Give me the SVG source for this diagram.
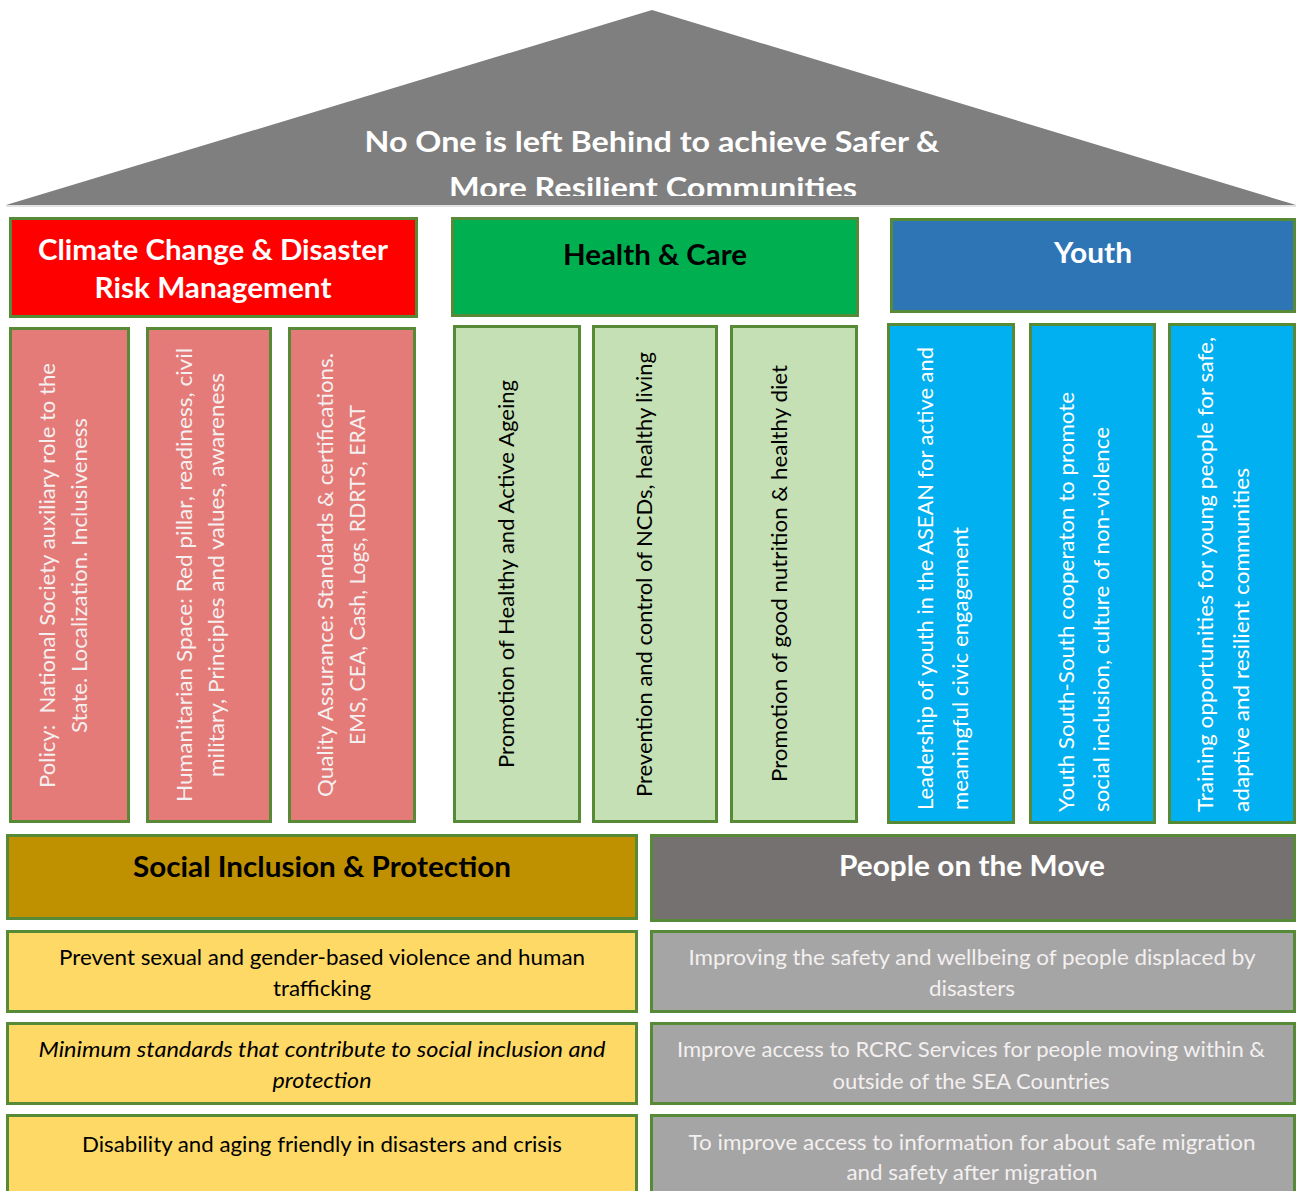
<svg xmlns="http://www.w3.org/2000/svg" width="1296" height="1191" viewBox="0 0 1296 1191">
<defs>
<style>
.box{stroke:#578A36;stroke-width:3}
.t{font-family:Lato,"Open Sans","Liberation Sans",sans-serif;font-size:22px}
.h{font-family:Lato,"Open Sans","Liberation Sans",sans-serif;font-weight:bold;font-size:29px;text-anchor:middle}
.c{text-anchor:middle}
.w{fill:#FFFFFF}
.lw{fill:#F4F0F0}
.k{fill:#000000}
</style>
<clipPath id="roofclip"><rect x="0" y="0" width="1296" height="196"/></clipPath>
</defs>
<rect width="1296" height="1191" fill="#FFFFFF"/>

<g id="roof">
<polygon points="652,10 6,205 1296,205" fill="#7F7F7F"/>
<line x1="6" y1="206" x2="1296" y2="206" stroke="#C8C8C8" stroke-width="1"/>
<g clip-path="url(#roofclip)">
<text class="h w" x="652" y="152" font-size="30" textLength="575" lengthAdjust="spacingAndGlyphs">No One is left Behind to achieve Safer &amp;</text>
<text class="h w" x="653" y="198" font-size="30" textLength="408" lengthAdjust="spacingAndGlyphs">More Resilient Communities</text>
</g>
</g>

<g id="climate-header">
<rect class="box" x="10.5" y="218.5" width="406" height="98" fill="#FF0000"/>
<text class="h w" x="213" y="260" font-size="30" textLength="350" lengthAdjust="spacingAndGlyphs">Climate Change &amp; Disaster</text>
<text class="h w" x="213" y="298" font-size="30" textLength="237" lengthAdjust="spacingAndGlyphs">Risk Management</text>
</g>
<g id="health-header">
<rect class="box" x="452.5" y="218.5" width="405" height="97" fill="#00B050"/>
<text class="h k" x="655" y="265" font-size="28" textLength="184" lengthAdjust="spacingAndGlyphs">Health &amp; Care</text>
</g>
<g id="youth-header">
<rect class="box" x="891.5" y="219.5" width="403" height="92" fill="#2E75B6"/>
<text class="h w" x="1093" y="263" font-size="28" textLength="78" lengthAdjust="spacingAndGlyphs">Youth</text>
</g>

<g id="climate-col1">
<rect class="box" x="10.5" y="328.5" width="118" height="493" fill="#E47B78"/>
<text class="t lw c" xml:space="preserve" transform="translate(55,575.5) rotate(-90)" textLength="425" lengthAdjust="spacingAndGlyphs">Policy:  National Society auxiliary role to the</text>
<text class="t lw c" transform="translate(87,575.5) rotate(-90)" textLength="315" lengthAdjust="spacingAndGlyphs">State. Localization. Inclusiveness</text>
</g>
<g id="climate-col2">
<rect class="box" x="147.5" y="328.5" width="123" height="493" fill="#E47B78"/>
<text class="t lw c" transform="translate(192,575) rotate(-90)" textLength="454" lengthAdjust="spacingAndGlyphs">Humanitarian Space: Red pillar, readiness, civil</text>
<text class="t lw c" transform="translate(224,575) rotate(-90)" textLength="404" lengthAdjust="spacingAndGlyphs">military, Principles and values, awareness</text>
</g>
<g id="climate-col3">
<rect class="box" x="289.5" y="328.5" width="125" height="493" fill="#E47B78"/>
<text class="t lw c" transform="translate(333,575) rotate(-90)" textLength="444" lengthAdjust="spacingAndGlyphs">Quality Assurance: Standards &amp; certifications.</text>
<text class="t lw c" transform="translate(365,575) rotate(-90)" textLength="340" lengthAdjust="spacingAndGlyphs">EMS, CEA, Cash, Logs, RDRTS, ERAT</text>
</g>

<g id="health-col1">
<rect class="box" x="454.5" y="326.5" width="125" height="495" fill="#C5E0B4"/>
<text class="t k c" transform="translate(514,574) rotate(-90)" textLength="388" lengthAdjust="spacingAndGlyphs">Promotion of Healthy and Active Ageing</text>
</g>
<g id="health-col2">
<rect class="box" x="593.5" y="326.5" width="123" height="495" fill="#C5E0B4"/>
<text class="t k c" transform="translate(652,574.5) rotate(-90)" textLength="445" lengthAdjust="spacingAndGlyphs">Prevention and control of NCDs, healthy living</text>
</g>
<g id="health-col3">
<rect class="box" x="731.5" y="326.5" width="125" height="495" fill="#C5E0B4"/>
<text class="t k c" transform="translate(787,573.5) rotate(-90)" textLength="417" lengthAdjust="spacingAndGlyphs">Promotion of good nutrition &amp; healthy diet</text>
</g>

<g id="youth-col1">
<rect class="box" x="888.5" y="324.5" width="125" height="498" fill="#00B0F0"/>
<text class="t w" transform="translate(933,810) rotate(-90)" textLength="463" lengthAdjust="spacingAndGlyphs">Leadership of youth in the ASEAN for active and</text>
<text class="t w" transform="translate(968,810) rotate(-90)" textLength="283" lengthAdjust="spacingAndGlyphs">meaningful civic engagement</text>
</g>
<g id="youth-col2">
<rect class="box" x="1030.5" y="324.5" width="124" height="498" fill="#00B0F0"/>
<text class="t w" transform="translate(1074,812) rotate(-90)" textLength="420" lengthAdjust="spacingAndGlyphs">Youth South-South cooperaton to promote</text>
<text class="t w" transform="translate(1109,812) rotate(-90)" textLength="385" lengthAdjust="spacingAndGlyphs">social inclusion, culture of non-violence</text>
</g>
<g id="youth-col3">
<rect class="box" x="1169.5" y="324.5" width="125" height="498" fill="#00B0F0"/>
<text class="t w" transform="translate(1213,812) rotate(-90)" textLength="475" lengthAdjust="spacingAndGlyphs">Training opportunities for young people for safe,</text>
<text class="t w" transform="translate(1249,812) rotate(-90)" textLength="344" lengthAdjust="spacingAndGlyphs">adaptive and resilient communities</text>
</g>

<g id="social-header">
<rect class="box" x="7.5" y="835.5" width="629" height="83" fill="#BF9000"/>
<text class="h k" x="322" y="877" font-size="29" textLength="378" lengthAdjust="spacingAndGlyphs">Social Inclusion &amp; Protection</text>
</g>
<g id="social-1">
<rect class="box" x="7.5" y="931.5" width="629" height="80" fill="#FFD966"/>
<text class="t k c" x="322" y="965" textLength="526" lengthAdjust="spacingAndGlyphs">Prevent sexual and gender-based violence and human</text>
<text class="t k c" x="322" y="996" textLength="98" lengthAdjust="spacingAndGlyphs">trafficking</text>
</g>
<g id="social-2">
<rect class="box" x="7.5" y="1023.5" width="629" height="80" fill="#FFD966"/>
<text class="t k c" x="322" y="1057" font-style="italic" textLength="567" lengthAdjust="spacingAndGlyphs">Minimum standards that contribute to social inclusion and</text>
<text class="t k c" x="322" y="1088" font-style="italic" textLength="99" lengthAdjust="spacingAndGlyphs">protection</text>
</g>
<g id="social-3">
<rect class="box" x="7.5" y="1115.5" width="629" height="90" fill="#FFD966"/>
<text class="t k c" x="322" y="1152" textLength="480" lengthAdjust="spacingAndGlyphs">Disability and aging friendly in disasters and crisis</text>
</g>

<g id="move-header">
<rect class="box" x="651.5" y="835.5" width="643" height="85" fill="#767171"/>
<text class="h w" x="972" y="876" font-size="28" textLength="266" lengthAdjust="spacingAndGlyphs">People on the Move</text>
</g>
<g id="move-1">
<rect class="box" x="651.5" y="931.5" width="643" height="80" fill="#A5A5A5"/>
<text class="t lw c" x="972" y="965" textLength="567" lengthAdjust="spacingAndGlyphs">Improving the safety and wellbeing of people displaced by</text>
<text class="t lw c" x="972" y="996" textLength="86" lengthAdjust="spacingAndGlyphs">disasters</text>
</g>
<g id="move-2">
<rect class="box" x="651.5" y="1023.5" width="643" height="80" fill="#A5A5A5"/>
<text class="t lw c" x="971" y="1057" textLength="588" lengthAdjust="spacingAndGlyphs">Improve access to RCRC Services for people moving within &amp;</text>
<text class="t lw c" x="971" y="1089" textLength="277" lengthAdjust="spacingAndGlyphs">outside of the SEA Countries</text>
</g>
<g id="move-3">
<rect class="box" x="651.5" y="1115.5" width="643" height="90" fill="#A5A5A5"/>
<text class="t lw c" x="972" y="1150" textLength="567" lengthAdjust="spacingAndGlyphs">To improve access to information for about safe migration</text>
<text class="t lw c" x="972" y="1180" textLength="251" lengthAdjust="spacingAndGlyphs">and safety after migration</text>
</g>

<g id="connectors"/>
</svg>
